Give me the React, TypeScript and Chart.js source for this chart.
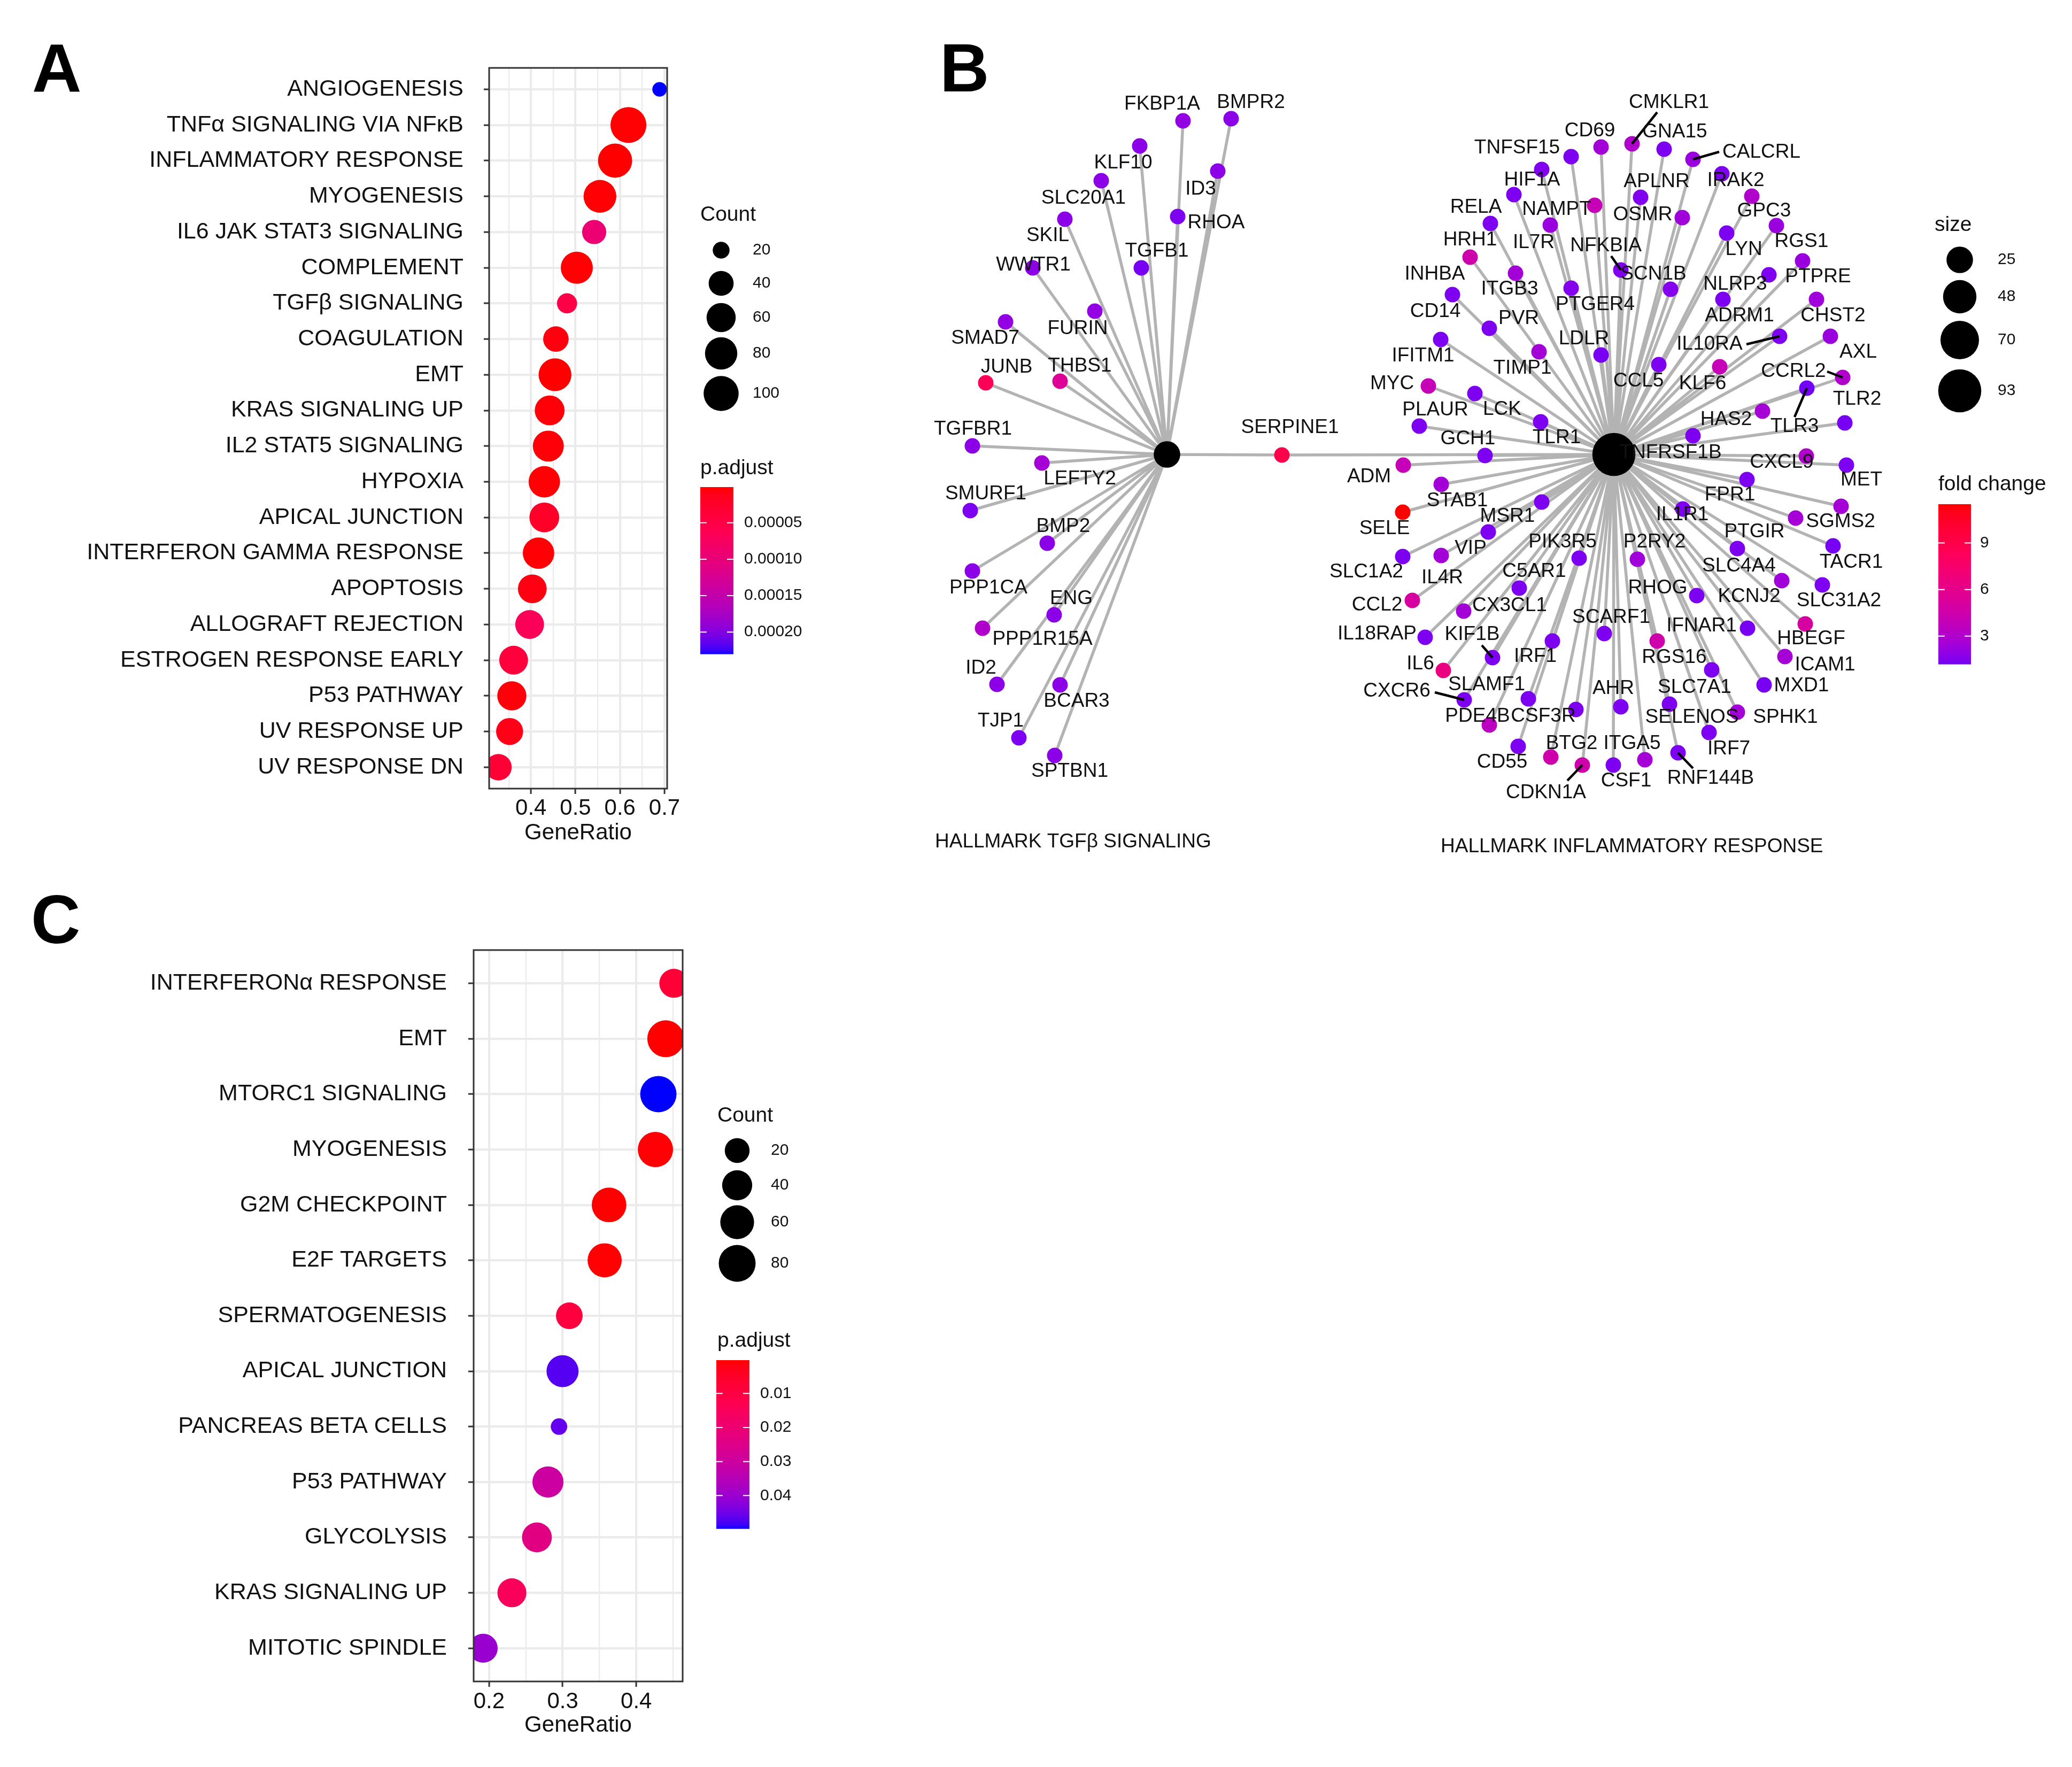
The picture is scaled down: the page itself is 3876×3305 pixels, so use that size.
import React, { useEffect, useRef } from 'react';
import { Chart, registerables } from 'chart.js';

Chart.register(...registerables);

const FONT = "'Liberation Sans', Arial, Helvetica, sans-serif";
const TXT = '#111111';

// ---------------- Panel A data ----------------
const pathwaysA = [
  'ANGIOGENESIS', 'TNFα SIGNALING VIA NFκB', 'INFLAMMATORY RESPONSE', 'MYOGENESIS',
  'IL6 JAK STAT3 SIGNALING', 'COMPLEMENT', 'TGFβ SIGNALING', 'COAGULATION', 'EMT',
  'KRAS SIGNALING UP', 'IL2 STAT5 SIGNALING', 'HYPOXIA', 'APICAL JUNCTION',
  'INTERFERON GAMMA RESPONSE', 'APOPTOSIS', 'ALLOGRAFT REJECTION', 'ESTROGEN RESPONSE EARLY',
  'P53 PATHWAY', 'UV RESPONSE UP', 'UV RESPONSE DN',
];
const geneRatioA = [0.689, 0.619, 0.589, 0.555, 0.542, 0.503, 0.481, 0.456, 0.454, 0.442, 0.439, 0.430, 0.430, 0.417, 0.403, 0.397, 0.361, 0.357, 0.352, 0.327];
const countA = [19, 107, 93, 83, 37, 78, 25, 42, 83, 64, 71, 74, 64, 74, 58, 58, 58, 60, 49, 46];
const pAdjA = [0.00023, 0.000002, 0.000001, 0.000003, 0.000093, 0.000002, 0.00005, 0.000006, 0.000001, 0.000004, 0.000004, 0.000003, 0.000022, 0.000003, 0.000008, 0.000066, 0.00004, 0.000005, 0.00001, 0.000034];
const xTicksA = [0.35, 0.4, 0.45, 0.5, 0.55, 0.6, 0.65, 0.7];
const countBreaksA = [20, 40, 60, 80, 100];
const pAdjBreaksA = [0.00005, 0.0001, 0.00015, 0.0002];

// ---------------- Panel C data ----------------
const pathwaysC = [
  'INTERFERONα RESPONSE', 'EMT', 'MTORC1 SIGNALING', 'MYOGENESIS', 'G2M CHECKPOINT',
  'E2F TARGETS', 'SPERMATOGENESIS', 'APICAL JUNCTION', 'PANCREAS BETA CELLS',
  'P53 PATHWAY', 'GLYCOLYSIS', 'KRAS SIGNALING UP', 'MITOTIC SPINDLE',
];
const geneRatioC = [0.451, 0.440, 0.430, 0.426, 0.363, 0.357, 0.309, 0.2998, 0.295, 0.280, 0.265, 0.231, 0.192];
const countC = [35, 80, 76, 69, 65, 62, 26, 50, 8, 45, 39, 35, 35];
const pAdjC = [0.0075, 0.0002, 0.0497, 0.0005, 0.0003, 0.0004, 0.009, 0.047, 0.046, 0.030, 0.0235, 0.015, 0.040];
const xTicksC = [0.2, 0.25, 0.3, 0.35, 0.4, 0.45];
const countBreaksC = [20, 40, 60, 80];
const pAdjBreaksC = [0.01, 0.02, 0.03, 0.04];

// ---------------- Panel B data (network) ----------------
// [gene, nodeX, nodeY, foldChange, labelX, labelY]
const tgfGenes = [
  ['FKBP1A', 2213, 226, 2.0, 2174, 195], ['BMPR2', 2303, 222, 1.8, 2340, 192],
  ['KLF10', 2132, 273, 1.8, 2101, 305], ['ID3', 2278, 320, 1.8, 2246, 354],
  ['SLC20A1', 2060, 338, 1.8, 2027, 371], ['RHOA', 2203, 405, 1.4, 2275, 417],
  ['SKIL', 1992, 410, 1.8, 1960, 441], ['TGFB1', 2135, 501, 1.3, 2164, 470],
  ['WWTR1', 1932, 501, 1.8, 1933, 496], ['FURIN', 2048, 582, 2.0, 2016, 615],
  ['SMAD7', 1881, 602, 2.0, 1843, 633], ['JUNB', 1844, 716, 8.5, 1883, 687],
  ['THBS1', 1983, 713, 5.5, 2020, 685], ['TGFBR1', 1819, 834, 1.8, 1820, 803],
  ['LEFTY2', 1949, 866, 2.6, 2020, 896], ['SMURF1', 1815, 955, 1.4, 1844, 924],
  ['BMP2', 1959, 1016, 1.8, 1989, 985], ['PPP1CA', 1819, 1068, 1.8, 1849, 1100],
  ['ENG', 1972, 1150, 1.8, 2004, 1120], ['PPP1R15A', 1838, 1175, 3.0, 1950, 1196],
  ['ID2', 1865, 1280, 1.8, 1835, 1250], ['BCAR3', 1983, 1281, 1.8, 2014, 1312],
  ['TJP1', 1906, 1380, 1.4, 1872, 1349], ['SPTBN1', 1973, 1413, 1.8, 2001, 1443],
];
const sharedGenes = [['SERPINE1', 2398, 851, 9.0, 2413, 800]];
const inflGenes = [
  ['CMKLR1', 3053, 269, 3.0, 3122, 192], ['CD69', 2995, 275, 2.5, 2974, 245],
  ['GNA15', 3113, 279, 1.4, 3133, 247], ['TNFSF15', 2939, 293, 1.4, 2838, 277],
  ['CALCRL', 3167, 298, 2.2, 3295, 285], ['HIF1A', 2884, 317, 1.5, 2866, 337],
  ['IRAK2', 3221, 325, 1.4, 3247, 338], ['APLNR', 3069, 369, 1.5, 3099, 340],
  ['GPC3', 3277, 367, 3.0, 3300, 395], ['NAMPT', 2983, 384, 4.0, 2912, 392],
  ['OSMR', 3147, 407, 2.4, 3073, 402], ['RELA', 2832, 364, 1.4, 2761, 388],
  ['IL7R', 2900, 421, 2.2, 2869, 454], ['LYN', 3230, 436, 1.4, 3262, 467],
  ['RGS1', 3323, 422, 2.2, 3370, 452], ['HRH1', 2750, 481, 4.5, 2750, 449],
  ['NFKBIA', 3032, 505, 1.5, 3004, 460], ['ITGB3', 2835, 511, 2.5, 2824, 541],
  ['PTPRE', 3372, 488, 2.2, 3401, 518], ['NLRP3', 3309, 514, 1.4, 3246, 532],
  ['PTGER4', 2939, 539, 1.6, 2984, 570], ['SCN1B', 3125, 541, 1.6, 3093, 513],
  ['INHBA', 2717, 551, 1.4, 2684, 513], ['ADRM1', 3223, 560, 1.4, 3254, 591],
  ['CHST2', 3398, 560, 2.4, 3429, 591], ['PVR', 2786, 614, 1.4, 2841, 596],
  ['CD14', 2695, 635, 1.4, 2685, 583], ['IL10RA', 3329, 629, 1.4, 3198, 644],
  ['AXL', 3424, 629, 2.2, 3476, 659], ['LDLR', 2995, 664, 1.3, 2963, 634],
  ['TIMP1', 2879, 658, 2.5, 2848, 689], ['CCL5', 3103, 682, 1.4, 3065, 713],
  ['KLF6', 3217, 686, 4.0, 3185, 718], ['CCRL2', 3447, 706, 3.0, 3355, 695],
  ['TLR3', 3380, 726, 1.2, 3357, 798], ['MYC', 2672, 722, 4.0, 2604, 718],
  ['LCK', 2759, 736, 1.4, 2810, 766], ['HAS2', 3297, 769, 2.6, 3229, 785],
  ['TLR2', 3451, 791, 1.3, 3474, 747], ['PLAUR', 2655, 797, 1.4, 2685, 767],
  ['TLR1', 2882, 789, 1.4, 2912, 819], ['TNFRSF1B', 3167, 815, 1.4, 3125, 847],
  ['GCH1', 2778, 852, 1.4, 2746, 821], ['ADM', 2625, 870, 4.0, 2561, 892],
  ['CXCL9', 3379, 853, 3.0, 3333, 865], ['MET', 3454, 870, 1.4, 3482, 898],
  ['FPR1', 3268, 897, 1.4, 3236, 926], ['STAB1', 2696, 906, 2.5, 2726, 937],
  ['MSR1', 2884, 939, 1.4, 2820, 966], ['SGMS2', 3444, 947, 2.6, 3443, 976],
  ['SELE', 2624, 958, 11.5, 2590, 989], ['IL1R1', 3148, 952, 1.4, 3147, 963],
  ['VIP', 2784, 995, 1.4, 2751, 1026], ['PTGIR', 3359, 969, 2.6, 3282, 995],
  ['TACR1', 3429, 1021, 1.3, 3463, 1052], ['SLC1A2', 2624, 1041, 1.4, 2556, 1070],
  ['IL4R', 2696, 1039, 2.5, 2698, 1081], ['PIK3R5', 2954, 1044, 1.4, 2923, 1014],
  ['P2RY2', 3063, 1046, 2.4, 3095, 1014], ['SLC4A4', 3250, 1026, 1.4, 3253, 1059],
  ['SLC31A2', 3409, 1094, 1.4, 3440, 1124], ['C5AR1', 2842, 1100, 1.4, 2870, 1069],
  ['RHOG', 3174, 1114, 1.4, 3101, 1100], ['CCL2', 2642, 1123, 5.0, 2576, 1132],
  ['CX3CL1', 2738, 1143, 2.5, 2824, 1133], ['HBEGF', 3377, 1167, 5.0, 3388, 1195],
  ['KCNJ2', 3333, 1086, 2.4, 3272, 1116], ['SCARF1', 3001, 1185, 1.4, 3014, 1155],
  ['IL18RAP', 2666, 1192, 1.4, 2576, 1186], ['IRF1', 2904, 1199, 1.4, 2872, 1228],
  ['IFNAR1', 3269, 1175, 1.3, 3183, 1171], ['RGS16', 3100, 1199, 4.5, 3132, 1230],
  ['KIF1B', 2792, 1230, 1.4, 2754, 1187], ['IL6', 2700, 1254, 6.5, 2657, 1242],
  ['ICAM1', 3339, 1228, 2.6, 3414, 1244], ['MXD1', 3300, 1281, 1.3, 3370, 1283],
  ['SLAMF1', 2859, 1307, 1.4, 2781, 1281], ['CXCR6', 2739, 1309, 1.4, 2613, 1293],
  ['AHR', 3032, 1322, 1.4, 3018, 1288], ['SLC7A1', 3202, 1253, 1.4, 3170, 1286],
  ['CSF3R', 2948, 1327, 1.4, 2887, 1340], ['SELENOS', 3123, 1317, 1.4, 3165, 1342],
  ['SPHK1', 3250, 1332, 2.5, 3340, 1342], ['IRF7', 3197, 1370, 1.4, 3234, 1401],
  ['PDE4B', 2786, 1356, 3.5, 2764, 1340], ['CD55', 2840, 1396, 1.4, 2810, 1426],
  ['BTG2', 2901, 1416, 4.5, 2940, 1391], ['CDKN1A', 2960, 1431, 4.5, 2892, 1483],
  ['CSF1', 3018, 1431, 1.4, 3042, 1461], ['ITGA5', 3077, 1421, 2.6, 3053, 1391],
  ['RNF144B', 3139, 1408, 1.4, 3200, 1456], ['IFITM1', 2788, 418, 1.4, 2662, 666],
];
const hubNames = ['HALLMARK TGFβ SIGNALING', 'HALLMARK INFLAMMATORY RESPONSE'];
const hubX = [2183, 3019];
const hubY = [850, 850];
const hubSize = [25, 93];
const hubLabelX = [1749, 2695];
const hubLabelY = [1575, 1584];
const leaderGenes = ['CMKLR1', 'CALCRL', 'NFKBIA', 'IL10RA', 'CCRL2', 'TLR3', 'KIF1B', 'CXCR6', 'CDKN1A', 'RNF144B'];
const leaderEndX = [3100, 3216, 3014, 3267, 3418, 3357, 2772, 2684, 2932, 3167];
const leaderEndY = [210, 284, 479, 644, 695, 780, 1207, 1295, 1460, 1437];
const sizeBreaksB = [25, 48, 70, 93];
const foldBreaksB = [9, 6, 3];

// ---------------- colour helpers (CIELAB interpolation) ----------------
const RED = [255, 0, 0];
const BLUE = [0, 0, 255];
const VIOLET = [105, 0, 245];
function toLin(c) { c /= 255; return c <= 0.04045 ? c / 12.92 : Math.pow((c + 0.055) / 1.055, 2.4); }
function toSrgb(v) { v = v <= 0.0031308 ? 12.92 * v : 1.055 * Math.pow(Math.max(v, 0), 1 / 2.4) - 0.055; return Math.max(0, Math.min(1, v)) * 255; }
function rgb2lab(rgb) {
  const R = toLin(rgb[0]), G = toLin(rgb[1]), B = toLin(rgb[2]);
  const X = (0.4124564 * R + 0.3575761 * G + 0.1804375 * B) / 0.95047;
  const Y = 0.2126729 * R + 0.7151522 * G + 0.072175 * B;
  const Z = (0.0193339 * R + 0.119192 * G + 0.9503041 * B) / 1.08883;
  const f = (t) => (t > 0.008856 ? Math.cbrt(t) : 7.787 * t + 16 / 116);
  const fx = f(X), fy = f(Y), fz = f(Z);
  return [116 * fy - 16, 500 * (fx - fy), 200 * (fy - fz)];
}
function lab2css(lab) {
  const fy = (lab[0] + 16) / 116, fx = fy + lab[1] / 500, fz = fy - lab[2] / 200;
  const fi = (t) => (t * t * t > 0.008856 ? t * t * t : (t - 16 / 116) / 7.787);
  const X = fi(fx) * 0.95047, Y = fi(fy), Z = fi(fz) * 1.08883;
  const r = 3.2404542 * X - 1.5371385 * Y - 0.4985314 * Z;
  const g = -0.969266 * X + 1.8760108 * Y + 0.041556 * Z;
  const b = 0.0556434 * X - 0.2040259 * Y + 1.0572252 * Z;
  const R = Math.min(255, Math.round(toSrgb(r) * 1.1));
  return `rgb(${R},${Math.round(toSrgb(g))},${Math.round(toSrgb(b))})`;
}
function mixLab(c1, c2, t) {
  const a = rgb2lab(c1), b = rgb2lab(c2);
  const u = Math.max(0, Math.min(1, t));
  return lab2css([a[0] + (b[0] - a[0]) * u, a[1] + (b[1] - a[1]) * u, a[2] + (b[2] - a[2]) * u]);
}

const isMajor = (v) => Math.abs(v * 10 - Math.round(v * 10)) < 1e-6;

// ---------------- dot plot builder (panels A & C) ----------------
function buildDot(spec) {
  const { cats, ratio, count, padj } = spec;
  const cMin = Math.min(...count), cMax = Math.max(...count);
  const pMin = Math.min(...padj), pMax = Math.max(...padj);
  const radius = (v) => spec.rMin + (spec.rMax - spec.rMin) * Math.sqrt(Math.max(0, (v - cMin) / (cMax - cMin)));
  const colour = (p) => mixLab(RED, BLUE, (p - pMin) / (pMax - pMin));
  const L = spec.legend;

  const decor = {
    id: 'decor' + spec.letter,
    afterDatasetsDraw(chart) {
      const { ctx, chartArea: a } = chart;
      ctx.save();
      ctx.strokeStyle = '#333333';
      ctx.lineWidth = 3;
      ctx.strokeRect(a.left, a.top, a.right - a.left, a.bottom - a.top);
      ctx.restore();
    },
    afterDraw(chart) {
      const ctx = chart.ctx;
      ctx.save();
      ctx.fillStyle = '#000';
      ctx.font = `bold 128px ${FONT}`;
      ctx.textAlign = 'left';
      ctx.textBaseline = 'alphabetic';
      ctx.fillText(spec.letter, spec.letterX, spec.letterY);
      ctx.fillStyle = TXT;
      ctx.font = `39px ${FONT}`;
      ctx.fillText('Count', L.countTitleX, L.countTitleY);
      spec.countBreaks.forEach((v, i) => {
        ctx.beginPath();
        ctx.arc(L.circleX, L.circleY[i], radius(v), 0, Math.PI * 2);
        ctx.fillStyle = '#000';
        ctx.fill();
        ctx.fillStyle = TXT;
        ctx.font = `30px ${FONT}`;
        ctx.textBaseline = 'middle';
        ctx.fillText(String(v), L.labelX, L.circleY[i]);
      });
      ctx.textBaseline = 'alphabetic';
      ctx.font = `39px ${FONT}`;
      ctx.fillStyle = TXT;
      ctx.fillText('p.adjust', L.countTitleX, L.padjTitleY);
      const h = L.barBottom - L.barTop;
      for (let y = 0; y < h; y += 1) {
        ctx.fillStyle = mixLab(RED, BLUE, y / h);
        ctx.fillRect(L.barX, L.barTop + y, L.barW, 1.6);
      }
      spec.padjBreaks.forEach((v) => {
        const y = L.barTop + ((v - pMin) / (pMax - pMin)) * h;
        ctx.strokeStyle = '#ffffff';
        ctx.lineWidth = 2;
        ctx.beginPath();
        ctx.moveTo(L.barX, y); ctx.lineTo(L.barX + 12, y);
        ctx.moveTo(L.barX + L.barW - 12, y); ctx.lineTo(L.barX + L.barW, y);
        ctx.stroke();
        ctx.fillStyle = TXT;
        ctx.font = `30px ${FONT}`;
        ctx.textBaseline = 'middle';
        ctx.fillText(v.toFixed(spec.padjDigits), L.barLabelX, y);
      });
      ctx.restore();
    },
  };

  return {
    type: 'bubble',
    data: {
      datasets: [{
        label: 'enrichment',
        data: cats.map((c, i) => ({ x: ratio[i], y: i + 1, r: radius(count[i]) })),
        backgroundColor: padj.map(colour),
        borderWidth: 0,
        clip: 0,
      }],
    },
    plugins: [decor],
    options: {
      responsive: false,
      maintainAspectRatio: false,
      devicePixelRatio: 1,
      animation: false,
      events: [],
      layout: { autoPadding: false, padding: { left: 0, top: spec.plotT, right: spec.canvasW - spec.plotR, bottom: 0 } },
      plugins: { legend: { display: false }, tooltip: { enabled: false } },
      scales: {
        x: {
          type: 'linear',
          position: 'bottom',
          min: spec.xMin,
          max: spec.xMax,
          afterBuildTicks: (s) => { s.ticks = spec.xTicks.map((v) => ({ value: v })); },
          afterFit: (s) => { s.height = spec.canvasH - spec.plotB; },
          border: { display: false },
          grid: {
            color: '#EBEBEB',
            lineWidth: (ctx) => (ctx.tick && isMajor(ctx.tick.value) ? 4.2 : 2.2),
            tickColor: (ctx) => (ctx.tick && isMajor(ctx.tick.value) ? '#333333' : 'rgba(0,0,0,0)'),
            tickWidth: 3,
            tickLength: 10,
          },
          ticks: {
            autoSkip: false,
            maxRotation: 0,
            padding: spec.xPad,
            color: TXT,
            font: { family: FONT, size: 42 },
            callback: (v) => (isMajor(v) ? Number(v).toFixed(1) : ''),
          },
          title: {
            display: true,
            text: 'GeneRatio',
            color: TXT,
            font: { family: FONT, size: 42 },
            padding: { top: 0, bottom: spec.titlePadBottom },
          },
        },
        y: {
          type: 'linear',
          position: 'left',
          min: 0.4,
          max: cats.length + 0.6,
          reverse: true,
          afterBuildTicks: (s) => { s.ticks = cats.map((c, i) => ({ value: i + 1 })); },
          afterFit: (s) => { s.width = spec.plotL; },
          border: { display: false },
          grid: { color: '#EBEBEB', lineWidth: 4.2, tickColor: '#333333', tickWidth: 3, tickLength: 10 },
          ticks: {
            autoSkip: false,
            padding: spec.yPad,
            color: TXT,
            font: { family: FONT, size: 43 },
            callback: (v) => cats[Math.round(v) - 1] || '',
          },
        },
      },
    },
  };
}

// ---------------- network builder (panel B) ----------------
function buildNet() {
  const allGenes = [...tgfGenes, ...inflGenes, ...sharedGenes];
  const fcs = allGenes.map((g) => g[3]);
  const fMin = Math.min(...fcs), fMax = Math.max(...fcs);
  const fcColour = (f) => mixLab(VIOLET, RED, (f - fMin) / (fMax - fMin));
  const hubRadius = (v) => 8.11 + 3.338 * Math.sqrt(v);

  const edges = [];
  const hubGenes = [[...tgfGenes, ...sharedGenes], [...inflGenes, ...sharedGenes]];
  hubGenes.forEach((list, h) => {
    list.forEach((g) => {
      edges.push({ x: hubX[h], y: hubY[h] }, { x: g[1], y: g[2] }, { x: g[1], y: null });
    });
  });
  const leaders = [];
  leaderGenes.forEach((name, i) => {
    const g = allGenes.find((e) => e[0] === name);
    if (g) leaders.push({ x: g[1], y: g[2] }, { x: leaderEndX[i], y: leaderEndY[i] }, { x: g[1], y: null });
  });

  const decor = {
    id: 'netDecor',
    afterDatasetsDraw(chart) {
      const { ctx, scales } = chart;
      const px = (v) => scales.x.getPixelForValue(v);
      const py = (v) => scales.y.getPixelForValue(v);
      ctx.save();
      ctx.fillStyle = TXT;
      ctx.font = `37px ${FONT}`;
      ctx.textAlign = 'center';
      ctx.textBaseline = 'middle';
      allGenes.forEach((g) => ctx.fillText(g[0], px(g[4]), py(g[5])));
      ctx.textAlign = 'left';
      hubNames.forEach((n, i) => ctx.fillText(n, px(hubLabelX[i]), py(hubLabelY[i])));
      ctx.restore();
    },
    afterDraw(chart) {
      const { ctx, scales } = chart;
      const px = (v) => scales.x.getPixelForValue(v);
      const py = (v) => scales.y.getPixelForValue(v);
      ctx.save();
      ctx.fillStyle = '#000';
      ctx.font = `bold 128px ${FONT}`;
      ctx.textAlign = 'left';
      ctx.textBaseline = 'alphabetic';
      ctx.fillText('B', px(1758), py(171));
      ctx.fillStyle = TXT;
      ctx.font = `39px ${FONT}`;
      ctx.fillText('size', px(3619), py(432));
      const cy = [486, 555, 636, 731];
      sizeBreaksB.forEach((v, i) => {
        ctx.beginPath();
        ctx.arc(px(3666), py(cy[i]), hubRadius(v), 0, Math.PI * 2);
        ctx.fillStyle = '#000';
        ctx.fill();
        ctx.fillStyle = TXT;
        ctx.font = `30px ${FONT}`;
        ctx.textBaseline = 'middle';
        ctx.fillText(String(v), px(3737), py(cy[i]));
      });
      ctx.textBaseline = 'alphabetic';
      ctx.font = `39px ${FONT}`;
      ctx.fillStyle = TXT;
      ctx.fillText('fold change', px(3626), py(917));
      const top = py(943), bottom = py(1242), bx = px(3626), bw = 61;
      const h = bottom - top;
      for (let y = 0; y < h; y += 1) {
        ctx.fillStyle = mixLab(VIOLET, RED, 1 - y / h);
        ctx.fillRect(bx, top + y, bw, 1.6);
      }
      foldBreaksB.forEach((v) => {
        const y = top + ((fMax - v) / (fMax - fMin)) * h;
        ctx.strokeStyle = '#ffffff';
        ctx.lineWidth = 2;
        ctx.beginPath();
        ctx.moveTo(bx, y); ctx.lineTo(bx + 12, y);
        ctx.moveTo(bx + bw - 12, y); ctx.lineTo(bx + bw, y);
        ctx.stroke();
        ctx.fillStyle = TXT;
        ctx.font = `30px ${FONT}`;
        ctx.textBaseline = 'middle';
        ctx.fillText(String(v), px(3704), y);
      });
      ctx.restore();
    },
  };

  return {
    type: 'scatter',
    data: {
      datasets: [
        {
          label: 'edges', data: edges, showLine: true, spanGaps: false,
          borderColor: '#B3B3B3', borderWidth: 5.5, pointRadius: 0, pointHoverRadius: 0, order: 4,
        },
        {
          label: 'genes', data: allGenes.map((g) => ({ x: g[1], y: g[2] })),
          pointRadius: 14.5, pointHoverRadius: 14.5, pointBorderWidth: 0,
          pointBackgroundColor: fcs.map(fcColour), order: 3,
        },
        {
          type: 'bubble', label: 'categories',
          data: hubNames.map((n, i) => ({ x: hubX[i], y: hubY[i], r: hubRadius(hubSize[i]) })),
          backgroundColor: '#000000', borderWidth: 0, order: 2,
        },
        {
          label: 'leaders', data: leaders, showLine: true, spanGaps: false,
          borderColor: '#000000', borderWidth: 4.5, pointRadius: 0, pointHoverRadius: 0, order: 1,
        },
      ],
    },
    plugins: [decor],
    options: {
      responsive: false,
      maintainAspectRatio: false,
      devicePixelRatio: 1,
      animation: false,
      events: [],
      layout: { autoPadding: false, padding: 0 },
      plugins: { legend: { display: false }, tooltip: { enabled: false } },
      scales: {
        x: { type: 'linear', display: false, min: 1700, max: 3876 },
        y: { type: 'linear', display: false, min: 0, max: 1700, reverse: true },
      },
    },
  };
}

const specA = {
  cats: pathwaysA, ratio: geneRatioA, count: countA, padj: pAdjA,
  xMin: 0.306, xMax: 0.706, xTicks: xTicksA,
  canvasW: 1700, canvasH: 1600,
  plotL: 915, plotR: 1248, plotT: 127, plotB: 1475,
  rMin: 13.6, rMax: 33.6,
  yPad: 38, xPad: 2, titlePadBottom: 16,
  countBreaks: countBreaksA, padjBreaks: pAdjBreaksA, padjDigits: 5,
  legend: {
    countTitleX: 1310, countTitleY: 413, circleX: 1349, circleY: [468, 530, 594, 661, 736], labelX: 1408,
    padjTitleY: 887, barX: 1310, barW: 62, barTop: 911, barBottom: 1223, barLabelX: 1392,
  },
  letter: 'A', letterX: 60, letterY: 172,
};

const specC = {
  cats: pathwaysC, ratio: geneRatioC, count: countC, padj: pAdjC,
  xMin: 0.179, xMax: 0.463, xTicks: xTicksC,
  canvasW: 1700, canvasH: 1655,
  plotL: 886, plotR: 1277, plotT: 127, plotB: 1495,
  rMin: 15.4, rMax: 34.5,
  yPad: 40, xPad: 3, titlePadBottom: 52,
  countBreaks: countBreaksC, padjBreaks: pAdjBreaksC, padjDigits: 2,
  legend: {
    countTitleX: 1342, countTitleY: 448, circleX: 1379, circleY: [502, 567, 636, 713], labelX: 1442,
    padjTitleY: 869, barX: 1340, barW: 62, barTop: 894, barBottom: 1209, barLabelX: 1422,
  },
  letter: 'C', letterX: 58, letterY: 114,
};

export default function App() {
  const refA = useRef(null);
  const refB = useRef(null);
  const refC = useRef(null);
  useEffect(() => {
    const charts = [
      new Chart(refA.current, buildDot(specA)),
      new Chart(refB.current, buildNet()),
      new Chart(refC.current, buildDot(specC)),
    ];
    return () => charts.forEach((c) => c.destroy());
  }, []);
  return (
    <div style={{ position: 'absolute', left: 0, top: 0, width: 3876, height: 3305, background: '#ffffff', overflow: 'hidden' }}>
      <canvas ref={refA} width={1700} height={1600} style={{ position: 'absolute', left: 0, top: 0, width: 1700, height: 1600 }} />
      <canvas ref={refB} width={2176} height={1700} style={{ position: 'absolute', left: 1700, top: 0, width: 2176, height: 1700 }} />
      <canvas ref={refC} width={1700} height={1655} style={{ position: 'absolute', left: 0, top: 1650, width: 1700, height: 1655 }} />
    </div>
  );
}
